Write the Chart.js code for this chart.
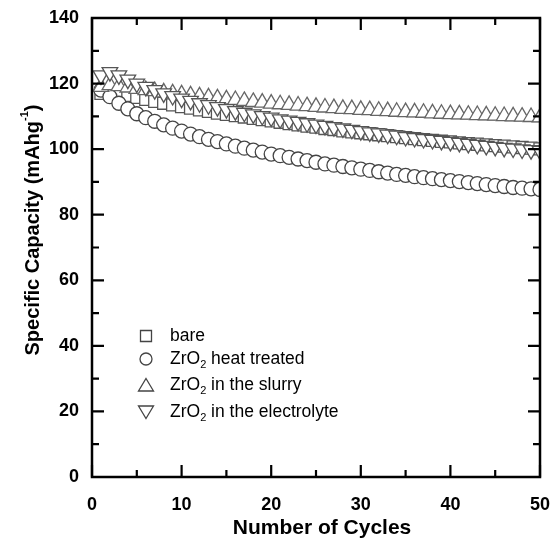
<!DOCTYPE html>
<html>
<head>
<meta charset="utf-8">
<script src="https://cdn.jsdelivr.net/npm/chart.js@4/dist/chart.umd.min.js"></script>
<style>
  html,body{margin:0;padding:0;background:#fff;}
  #wrap{width:554px;height:541px;position:relative;}
</style>
</head>
<body>
<div id="wrap"><canvas id="cap"></canvas></div>
<script>
// cycle numbers and capacities (mAh/g)
const cycles = [1,2,3,4,5,6,7,8,9,10,11,12,13,14,15,16,17,18,19,20,21,22,23,24,25,
  26,27,28,29,30,31,32,33,34,35,36,37,38,39,40,41,42,43,44,45,46,47,48,49,50];
const bare = [117,117.5,117,116.4,115.8,115.2,114.6,114,113.5,113,112.5,112,111.5,111,110.6,
  110.2,109.8,109.4,109,108.6,108.2,107.8,107.4,107,106.7,106.3,106,105.6,105.3,105,
  104.7,104.4,104.1,103.8,103.5,103.2,102.9,102.7,102.4,102.2,101.9,101.7,101.5,101.3,101.1,
  100.9,100.7,100.5,100.3,100.1];
const heatTreated = [118,116,114,112.3,110.8,109.6,108.5,107.4,106.4,105.5,104.6,103.8,103,102.3,101.6,
  100.9,100.3,99.7,99.1,98.5,98,97.5,97,96.5,96,95.5,95.1,94.7,94.3,93.9,
  93.5,93.1,92.7,92.3,92,91.6,91.3,91,90.7,90.4,90.1,89.8,89.5,89.2,88.9,
  88.6,88.3,88.1,87.9,87.7];
const slurry = [119,119.5,119.2,118.8,118.4,118,117.7,117.3,117,116.7,116.4,116.1,115.8,115.5,115.2,
  115,114.7,114.4,114.2,113.9,113.7,113.5,113.3,113.1,112.9,112.7,112.5,112.3,112.2,112,
  111.9,111.7,111.6,111.4,111.3,111.2,111.1,110.9,110.8,110.7,110.6,110.5,110.4,110.3,110.2,
  110.1,110,109.9,109.8,109.7];
const electrolyte = [122.5,123.5,122.5,121.2,120,119,118,117,116.2,115.4,114.7,114,113.4,112.8,112.2,
  111.6,111.1,110.6,110.1,109.6,109.1,108.7,108.3,107.9,107.5,107.1,106.7,106.3,105.9,105.5,
  105.1,104.8,104.4,104.1,103.7,103.4,103.1,102.8,102.5,102.2,101.9,101.6,101.3,101,100.7,
  100.4,100.2,99.9,99.7,99.5];
const xTicks = [0,10,20,30,40,50];
const yTicks = [0,20,40,60,80,100,120,140];

const FONT = 'Arial, "Liberation Sans", Helvetica, sans-serif';

function pts(ys){ return cycles.map((c,i)=>({x:c, y:ys[i]})); }

// hand drawn bits: inward ticks, frame, axis titles and the in-plot legend
const decor = {
  id:'decor',
  afterDatasetsDraw(chart){
    const {ctx, chartArea:a, scales:{x, y}} = chart;
    ctx.save();
    ctx.strokeStyle = '#000';
    ctx.lineWidth = 2.2;
    for(let v=0; v<=50; v+=5){
      const px = x.getPixelForValue(v);
      const len = v%10===0 ? 12 : 7;
      ctx.beginPath();
      ctx.moveTo(px, a.bottom); ctx.lineTo(px, a.bottom-len);
      ctx.moveTo(px, a.top); ctx.lineTo(px, a.top+len);
      ctx.stroke();
    }
    for(let v=0; v<=140; v+=10){
      const py = y.getPixelForValue(v);
      const len = v%20===0 ? 12 : 7;
      ctx.beginPath();
      ctx.moveTo(a.left, py); ctx.lineTo(a.left+len, py);
      ctx.moveTo(a.right, py); ctx.lineTo(a.right-len, py);
      ctx.stroke();
    }
    ctx.lineWidth = 2.5;
    ctx.strokeRect(a.left, a.top, a.right-a.left, a.bottom-a.top);

    // axis titles
    ctx.fillStyle = '#000';
    ctx.font = 'bold 21px ' + FONT;
    ctx.textAlign = 'center';
    ctx.textBaseline = 'middle';
    ctx.fillText('Number of Cycles', 322, 528);

    ctx.save();
    ctx.translate(33, 230);
    ctx.rotate(-Math.PI/2);
    const t1 = 'Specific Capacity (mAhg', sup = '-1', t2 = ')';
    ctx.font = 'bold 20px ' + FONT;
    const w1 = ctx.measureText(t1).width, w3 = ctx.measureText(t2).width;
    ctx.font = 'bold 11px ' + FONT;
    const w2 = ctx.measureText(sup).width;
    let sx = -(w1+w2+w3)/2;
    ctx.textAlign = 'left';
    ctx.font = 'bold 20px ' + FONT;
    ctx.fillText(t1, sx, 0); sx += w1;
    ctx.font = 'bold 11px ' + FONT;
    ctx.fillText(sup, sx, -8); sx += w2;
    ctx.font = 'bold 20px ' + FONT;
    ctx.fillText(t2, sx, 0);
    ctx.restore();

    // legend
    const rows = [
      {shape:'rect', pre:'bare', sub:'', post:''},
      {shape:'circle', pre:'ZrO', sub:'2', post:' heat treated'},
      {shape:'up', pre:'ZrO', sub:'2', post:' in the slurry'},
      {shape:'down', pre:'ZrO', sub:'2', post:' in the electrolyte'}
    ];
    const rowY = [336, 359, 385, 412];
    const mx = 146, tx = 170;
    rows.forEach((r,i)=>{
      const cy = rowY[i];
      ctx.lineWidth = 1.3;
      ctx.strokeStyle = '#444';
      ctx.beginPath();
      if(r.shape==='rect') ctx.rect(mx-5.5, cy-5.5, 11, 11);
      else if(r.shape==='circle') ctx.arc(mx, cy, 6, 0, Math.PI*2);
      else if(r.shape==='up'){ ctx.moveTo(mx, cy-6.5); ctx.lineTo(mx+7.5, cy+6); ctx.lineTo(mx-7.5, cy+6); ctx.closePath(); }
      else { ctx.moveTo(mx, cy+6.5); ctx.lineTo(mx+7.5, cy-6); ctx.lineTo(mx-7.5, cy-6); ctx.closePath(); }
      ctx.stroke();
      ctx.fillStyle = '#000';
      ctx.textAlign = 'left';
      ctx.textBaseline = 'middle';
      ctx.font = '17.5px ' + FONT;
      let px = tx;
      ctx.fillText(r.pre, px, cy); px += ctx.measureText(r.pre).width;
      if(r.sub){
        ctx.font = '11px ' + FONT;
        ctx.fillText(r.sub, px, cy+6); px += ctx.measureText(r.sub).width;
        ctx.font = '17.5px ' + FONT;
        ctx.fillText(r.post, px, cy);
      }
    });
    ctx.restore();
  }
};

// lower "order" is painted on top, so the electrolyte triangles cover the rest
new Chart(document.getElementById('cap').getContext('2d'), {
  type:'scatter',
  data:{
    datasets:[
      {label:'bare', data:pts(bare), pointStyle:'rect', pointRadius:8.5, order:3,
        borderColor:'#555', backgroundColor:'#fff', borderWidth:1.3},
      {label:'ZrO2 heat treated', data:pts(heatTreated), pointStyle:'circle', pointRadius:7, order:2,
        borderColor:'#444', backgroundColor:'#fff', borderWidth:1.3},
      {label:'ZrO2 in the slurry', data:pts(slurry), pointStyle:'triangle', pointRadius:9, order:1,
        borderColor:'#666', backgroundColor:'#fff', borderWidth:1.3},
      {label:'ZrO2 in the electrolyte', data:pts(electrolyte), pointStyle:'triangle', rotation:180, pointRadius:9, order:0,
        borderColor:'#555', backgroundColor:'#fff', borderWidth:1.3}
    ]
  },
  options:{
    responsive:true,
    maintainAspectRatio:false,
    animation:false,
    layout:{padding:{top:18, right:14, left:1, bottom:0}},
    plugins:{legend:{display:false}, tooltip:{enabled:false}},
    scales:{
      x:{
        type:'linear', min:0, max:50,
        grid:{display:false, drawTicks:false}, border:{display:false},
        afterBuildTicks(s){ s.ticks = xTicks.map(v=>({value:v})); },
        afterFit(s){ s.height = 64; s.paddingLeft = 0; s.paddingRight = 0; },
        ticks:{padding:17, color:'#000', maxRotation:0, font:{family:FONT, size:18, weight:'bold'}}
      },
      y:{
        min:0, max:140,
        grid:{display:false, drawTicks:false}, border:{display:false},
        afterBuildTicks(s){ s.ticks = yTicks.map(v=>({value:v})); },
        afterFit(s){ s.width = 91; s.paddingTop = 0; s.paddingBottom = 0; },
        ticks:{padding:13, color:'#000', font:{family:FONT, size:18, weight:'bold'}}
      }
    }
  },
  plugins:[decor]
});
</script>
</body>
</html>
